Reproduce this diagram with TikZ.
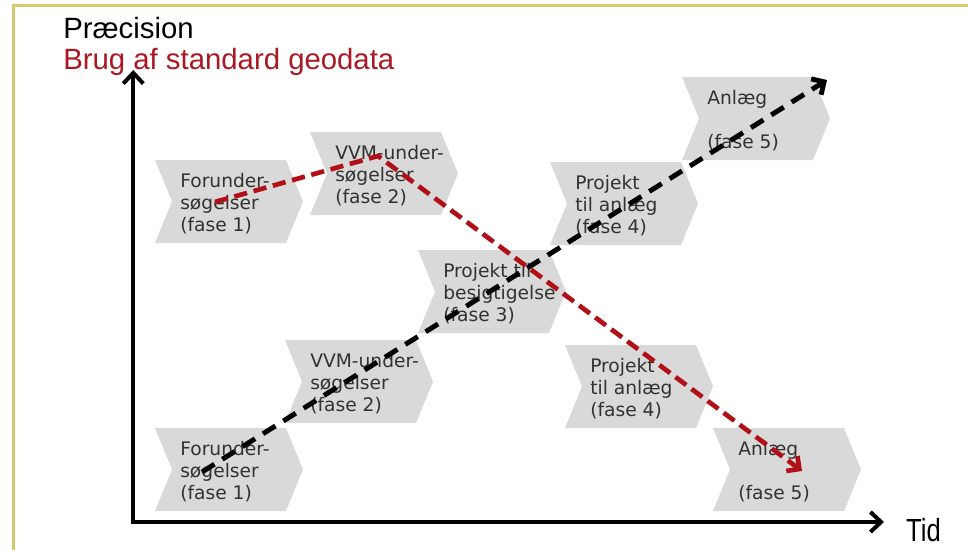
\documentclass[tikz,border=0pt]{standalone}
\usepackage{fontspec}
\setmainfont{Liberation Sans}
\newfontfamily\verd{DejaVu Sans}
\usetikzlibrary{arrows.meta}
\definecolor{chevgray}{RGB}{217,217,217}
\definecolor{txtgray}{RGB}{50,50,50}
\definecolor{dashred}{RGB}{178,16,24}
\definecolor{titlered}{RGB}{170,25,35}
\definecolor{frameyellow}{RGB}{212,201,110}
% #1 left x, #2 top y, #3 node name, #4 text
\newcommand{\chevbox}[4]{%
  \fill[chevgray] (#1,#2) -- ++(131,0) -- ++(17,41.5) -- ++(-17,41.5)
     -- ++(-131,0) -- ++(17,-41.5) -- cycle;
  \node[chevtext] (#3) at (#1+25,#2+44) {#4};
}
\begin{document}
\begin{tikzpicture}[x=0.75pt,y=-0.75pt,
  chevtext/.style={anchor=west,align=left,inner sep=0pt,text=txtgray,
     font=\verd\fontsize{14}{16.5}\selectfont},
  titletext/.style={anchor=base west,inner sep=0pt,font=\fontsize{22}{26}\selectfont},
  axisline/.style={line width=3pt,line join=miter,
     {Straight Barb[length=8pt,width=15pt]}-{Straight Barb[length=8pt,width=15pt]}},
  blackdash/.style={line width=3.7pt,dash pattern=on 11pt off 7pt,
     -{Straight Barb[length=7pt,width=14pt]}},
  reddash/.style={line width=3.5pt,dashred,dash pattern=on 10pt off 5pt,line join=round,
     -{Straight Barb[length=7pt,width=14pt]}},
  frame/.style={line width=2.3pt,frameyellow}]
\useasboundingbox (0,0) rectangle (968,550);
\fill[white] (0,0) rectangle (968,550);
% yellow frame
\draw[frame] (13.5,560) -- (13.5,5.2) -- (975,5.2);
% chevrons
\chevbox{155}{160}{fu1}{Forunder-\\søgelser\\(fase 1)}
\chevbox{310}{132}{vvm1}{VVM-under-\\søgelser\\(fase 2)}
\chevbox{550}{162}{pa1}{Projekt\\til anlæg\\(fase 4)}
\chevbox{682}{77}{an1}{Anlæg\\\strut\\(fase 5)}
\chevbox{418}{250}{pb}{Projekt til\\besigtigelse\\(fase 3)}
\chevbox{155}{428}{fu2}{Forunder-\\søgelser\\(fase 1)}
\chevbox{285}{340}{vvm2}{VVM-under-\\søgelser\\(fase 2)}
\chevbox{565}{345}{pa2}{Projekt\\til anlæg\\(fase 4)}
\chevbox{713}{428}{an2}{Anlæg\\\strut\\(fase 5)}
% titles
\node[titletext] (prec) at (63,38.5) {Præcision};
\node[titletext,text=titlered] (brug) at (63,69) {Brug af standard geodata};
\node[titletext,font=\fontsize{24}{28}\selectfont,xscale=0.8] (tid) at (906,541) {Tid};
% axes
\coordinate (ytip) at (133.3,70);
\coordinate (orig) at (133.3,522);
\coordinate (xtip) at (884,522);
\draw[axisline] (ytip) -- (orig) -- (xtip);
% dashed trends
\coordinate (bstart) at (202,472);
\coordinate (bend) at (827,80);
\draw[blackdash] (bstart) -- (bend);
\coordinate (rstart) at (215,202);
\coordinate (rpeak) at (378,156);
\coordinate (rend) at (802,471);
\draw[reddash] (rstart) -- (rpeak) -- (rend);
\end{tikzpicture}
\end{document}
